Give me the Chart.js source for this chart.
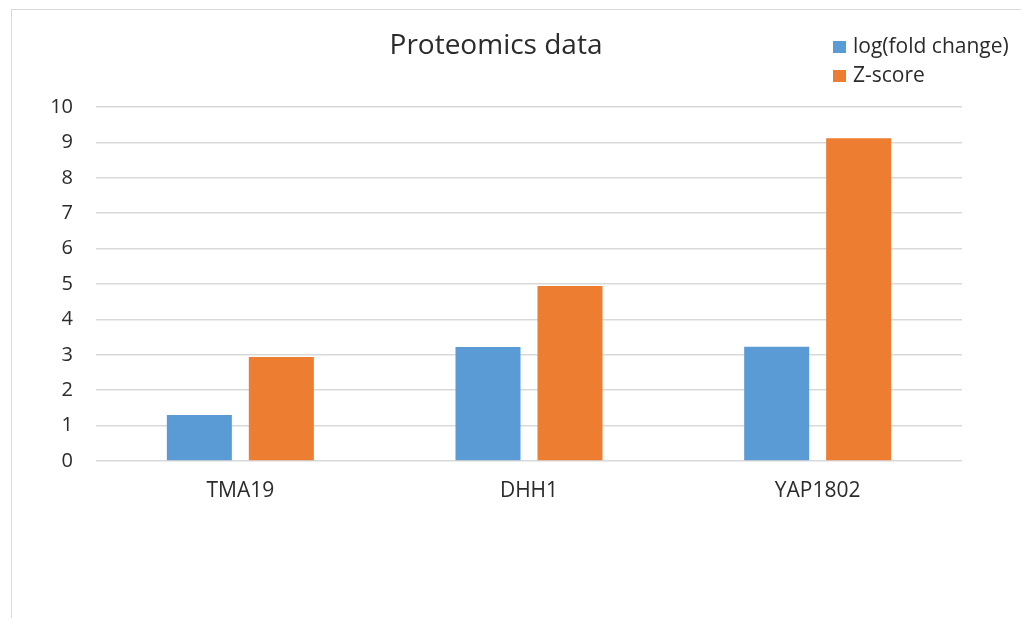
<!DOCTYPE html>
<html>
<head>
<meta charset="utf-8">
<script src="https://cdn.jsdelivr.net/npm/chart.js@4"></script>
<style>
  html, body { margin: 0; padding: 0; background: #fff; overflow: hidden; }
  #wrap { position: relative; width: 1021px; height: 618px; }
  #frame { position: absolute; left: 11px; top: 9px; width: 1100px; height: 700px;
           border-left: 1px solid #d9d9d9; border-top: 1px solid #d9d9d9; }
  canvas { position: absolute; left: 0; top: 0; }
</style>
</head>
<body>
<div id="wrap">
  <div id="frame"></div>
  <canvas id="c" width="1021" height="618"></canvas>
</div>
<script>
const categories = ['TMA19', 'DHH1', 'YAP1802'];
const logFoldChange = [1.30, 3.22, 3.23];
const zScore = [2.94, 4.94, 9.12];
const yTicks = [0, 1, 2, 3, 4, 5, 6, 7, 8, 9, 10];

const FONT = "'Open Sans', 'Noto Sans', sans-serif";
const TEXT = '#2b2b2b';

// Title and stacked legend in the upper right
const headerPlugin = {
  id: 'header',
  afterDraw(chart) {
    const ctx = chart.ctx;
    ctx.save();
    ctx.fillStyle = TEXT;
    ctx.font = `28px ${FONT}`;
    ctx.textAlign = 'center';
    ctx.textBaseline = 'alphabetic';
    ctx.fillText('Proteomics data', 496, 54);

    ctx.font = `21px ${FONT}`;
    ctx.textAlign = 'left';
    const baselines = [53, 82];
    chart.data.datasets.forEach((ds, i) => {
      ctx.fillStyle = ds.backgroundColor;
      ctx.fillRect(833, baselines[i] - 12, 13, 12);
      ctx.fillStyle = TEXT;
      ctx.fillText(ds.label, 853, baselines[i]);
    });
    ctx.restore();
  }
};

new Chart(document.getElementById('c'), {
  type: 'bar',
  data: {
    labels: categories,
    datasets: [
      { label: 'log(fold change)', data: logFoldChange, backgroundColor: '#5B9BD5' },
      { label: 'Z-score', data: zScore, backgroundColor: '#ED7D31' }
    ]
  },
  options: {
    responsive: false,
    animation: false,
    devicePixelRatio: 1,
    layout: { padding: { top: 107, right: 59, bottom: 0, left: 0 } },
    datasets: { bar: { categoryPercentage: 0.568, barPercentage: 0.793 } },
    plugins: { legend: { display: false }, title: { display: false }, tooltip: { enabled: false } },
    scales: {
      x: {
        grid: { display: false, drawTicks: false },
        border: { display: false },
        ticks: { color: TEXT, font: { family: FONT, size: 21 }, padding: 17 },
        afterFit(scale) { scale.height = 157; }
      },
      y: {
        min: 0, max: 10,
        afterBuildTicks(scale) { scale.ticks = yTicks.map(v => ({ value: v })); },
        grid: { color: '#d9d9d9', lineWidth: 1.5, drawTicks: false },
        border: { display: false },
        ticks: { color: TEXT, font: { family: FONT, size: 20 }, padding: 23 },
        afterFit(scale) { scale.width = 96; }
      }
    }
  },
  plugins: [headerPlugin]
});
</script>
</body>
</html>
